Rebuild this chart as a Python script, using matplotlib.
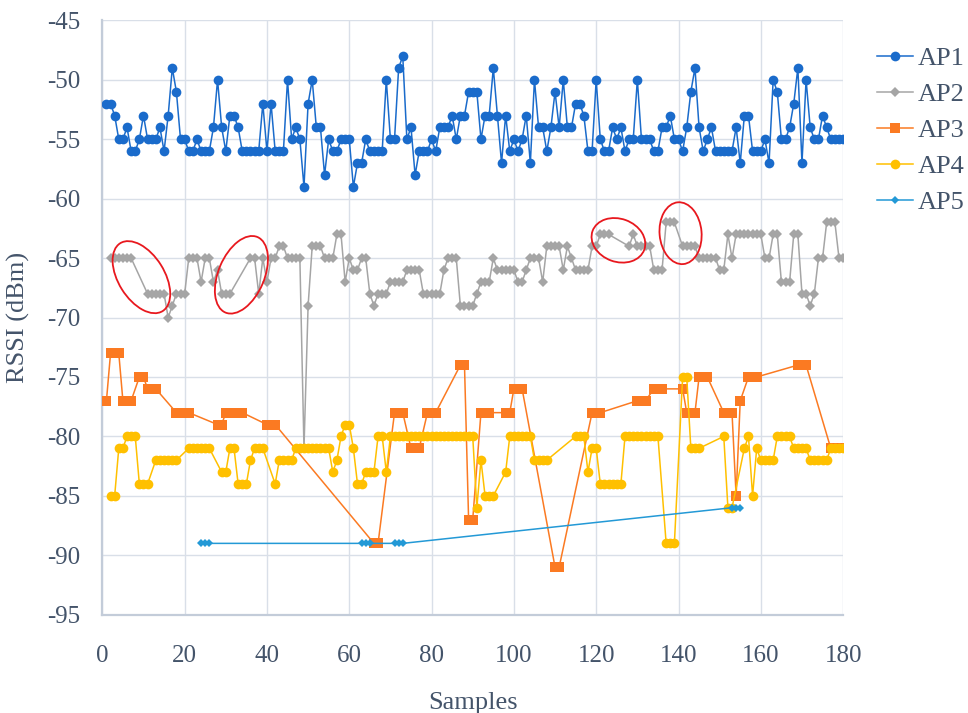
import numpy as np
import matplotlib
matplotlib.use('Agg')
import matplotlib.pyplot as plt
from matplotlib.patches import Ellipse
from matplotlib.transforms import ScaledTranslation

NA = np.nan

# sample index 1..180
samples = np.arange(1, 181)

# RSSI readings (dBm) per access point, NA = no reading
ap1 = [-52, -52, -53, -55, -55, -54, -56, -56, -55, -53,
       -55, -55, -55, -54, -56, -53, -49, -51, -55, -55,
       -56, -56, -55, -56, -56, -56, -54, -50, -54, -56,
       -53, -53, -54, -56, -56, -56, -56, -56, -52, -56,
       -52, -56, -56, -56, -50, -55, -54, -55, -59, -52,
       -50, -54, -54, -58, -55, -56, -56, -55, -55, -55,
       -59, -57, -57, -55, -56, -56, -56, -56, -50, -55,
       -55, -49, -48, -55, -54, -58, -56, -56, -56, -55,
       -56, -54, -54, -54, -53, -55, -53, -53, -51, -51,
       -51, -55, -53, -53, -49, -53, -57, -53, -56, -55,
       -56, -55, -53, -57, -50, -54, -54, -56, -54, -51,
       -54, -50, -54, -54, -52, -52, -53, -56, -56, -50,
       -55, -56, -56, -54, -55, -54, -56, -55, -55, -50,
       -55, -55, -55, -56, -56, -54, -54, -53, -55, -55,
       -56, -54, -51, -49, -54, -56, -55, -54, -56, -56,
       -56, -56, -56, -54, -57, -53, -53, -56, -56, -56,
       -55, -57, -50, -51, -55, -55, -54, -52, -49, -57,
       -50, -54, -55, -55, -53, -54, -55, -55, -55, -55]

ap2 = [NA, -65, -65, -65, -65, -65, -65, NA, NA, NA,
       -68, -68, -68, -68, -68, -70, -69, -68, -68, -68,
       -65, -65, -65, -67, -65, -65, -67, -66, -68, -68,
       -68, NA, NA, NA, NA, -65, -65, -68, -65, -67,
       -65, -65, -64, -64, -65, -65, -65, -65, -81, -69,
       -64, -64, -64, -65, -65, -65, -63, -63, -67, -65,
       -66, -66, -65, -65, -68, -69, -68, -68, -68, -67,
       -67, -67, -67, -66, -66, -66, -66, -68, -68, -68,
       -68, -68, -66, -65, -65, -65, -69, -69, -69, -69,
       -68, -67, -67, -67, -65, -66, -66, -66, -66, -66,
       -67, -67, -66, -65, -65, -65, -67, -64, -64, -64,
       -64, -66, -64, -65, -66, -66, -66, -66, -64, -64,
       -63, -63, -63, NA, NA, NA, NA, -64, -63, -64,
       -64, -64, -64, -66, -66, -66, -62, -62, -62, NA,
       -64, -64, -64, -64, -65, -65, -65, -65, -65, -66,
       -66, -63, -65, -63, -63, -63, -63, -63, -63, -63,
       -65, -65, -63, -63, -67, -67, -67, -63, -63, -68,
       -68, -69, -68, -65, -65, -62, -62, -62, -65, -65]

ap3 = [-77, -73, -73, -73, -77, -77, -77, NA, -75, -75,
       -76, -76, -76, NA, NA, NA, NA, -78, -78, -78,
       -78, NA, NA, NA, NA, NA, NA, -79, -79, -78,
       -78, -78, -78, -78, NA, NA, NA, NA, NA, -79,
       -79, -79, NA, NA, NA, NA, NA, NA, NA, NA,
       NA, NA, NA, NA, NA, NA, NA, NA, NA, NA,
       NA, NA, NA, NA, NA, -89, -89, NA, NA, NA,
       -78, -78, -78, NA, -81, -81, -81, NA, -78, -78,
       -78, NA, NA, NA, NA, NA, -74, -74, -87, -87,
       NA, -78, -78, -78, NA, NA, NA, -78, -78, -76,
       -76, -76, NA, NA, NA, NA, NA, NA, NA, -91,
       -91, NA, NA, NA, NA, NA, NA, NA, -78, -78,
       -78, NA, NA, NA, NA, NA, NA, NA, NA, -77,
       -77, -77, NA, -76, -76, -76, NA, NA, NA, NA,
       -76, -78, -78, -78, -75, -75, -75, NA, NA, NA,
       -78, -78, -78, -85, -77, NA, -75, -75, -75, NA,
       NA, NA, NA, NA, NA, NA, NA, NA, -74, -74,
       -74, NA, NA, NA, NA, NA, -81, -81, -81, -81]

ap4 = [NA, -85, -85, -81, -81, -80, -80, -80, -84, -84,
       -84, NA, -82, -82, -82, -82, -82, -82, NA, NA,
       -81, -81, -81, -81, -81, -81, NA, NA, -83, -83,
       -81, -81, -84, -84, -84, -82, -81, -81, -81, NA,
       NA, -84, -82, -82, -82, -82, -81, -81, -81, -81,
       -81, -81, -81, -81, -81, -83, -82, -80, -79, -79,
       -81, -84, -84, -83, -83, -83, -80, -80, -83, -80,
       -80, -80, -80, -80, -80, -80, -80, -80, -80, -80,
       -80, -80, -80, -80, -80, -80, -80, -80, -80, -80,
       -86, -82, -85, -85, -85, NA, NA, -83, -80, -80,
       -80, -80, -80, -80, -82, -82, -82, -82, NA, NA,
       NA, NA, NA, NA, -80, -80, -80, -83, -81, -81,
       -84, -84, -84, -84, -84, -84, -80, -80, -80, -80,
       -80, -80, -80, -80, -80, NA, -89, -89, -89, NA,
       -75, -75, -81, -81, -81, NA, NA, NA, NA, NA,
       -80, -86, -86, NA, NA, -81, -80, -85, -81, -82,
       -82, -82, -82, -80, -80, -80, -80, -81, -81, -81,
       -81, -82, -82, -82, -82, -82, -81, -81, -81, -81]

ap5 = [NA] * 180
for s in (24, 25, 26, 63, 64, 65, 71, 72, 73):
    ap5[s - 1] = -89
for s in (153, 154, 155):
    ap5[s - 1] = -86

series = [
    ('AP1', ap1, '#1A6BCB', 'o', 7.0),
    ('AP2', ap2, '#A5A5A5', 'D', 4.6),
    ('AP3', ap3, '#FB7A22', 's', 6.6),
    ('AP4', ap4, '#FFC000', 'o', 7.0),
    ('AP5', ap5, '#2399D6', 'D', 4.2),
]

text_color = '#44546A'
plt.rcParams['font.family'] = ['Liberation Serif', 'DejaVu Serif']
plt.rcParams['axes.unicode_minus'] = False

fig = plt.figure(figsize=(9.68, 7.13), dpi=100)
ax = fig.add_axes([0.1057, 0.1379, 0.7653, 0.8334])

for name, vals, color, marker, ms in series:
    y = np.array(vals, dtype=float)
    ok = ~np.isnan(y)
    # Excel-style: connect points across empty cells
    ax.plot(samples[ok], y[ok], color=color, lw=1.1, marker=marker,
            ms=ms, mec=color, mfc=color, mew=0, label=name, zorder=3)

ax.set_xlim(0, 180)
ax.set_ylim(-95, -45)
ax.set_xticks(np.arange(0, 181, 20))
ax.set_yticks(np.arange(-95, -44, 5))
ax.grid(True, color='#D9DFE8', lw=1.0, zorder=0)
ax.set_axisbelow(True)
for side in ('top', 'right'):
    ax.spines[side].set_visible(False)
for side in ('left', 'bottom'):
    ax.spines[side].set_color('#C3CCD9')
    ax.spines[side].set_linewidth(1.6)
ax.tick_params(axis='both', length=0, labelsize=18, colors=text_color)
ax.tick_params(axis='x', pad=22)
ax.tick_params(axis='y', pad=16)

ax.set_xlabel('Samples', fontsize=19, color=text_color, labelpad=18)
ax.set_ylabel('RSSI (dBm)', fontsize=19, color=text_color, labelpad=12)

# red annotation ellipses (sizes in pixels)
ellipses = [(9.5, -66.6, 80, 46, -58), (33.8, -66.4, 82, 46, 67),
            (125.4, -63.5, 55, 43, -20), (140.5, -62.9, 62, 42, 95)]
for cx, cy, w, h, ang in ellipses:
    tr = fig.dpi_scale_trans + ScaledTranslation(cx, cy, ax.transData)
    ax.add_patch(Ellipse((0, 0), w / 100, h / 100, angle=ang, fill=False,
                         ec='#E8181E', lw=1.3, transform=tr, zorder=5))

leg = fig.legend(loc='upper left', bbox_to_anchor=(0.906, 0.935), frameon=False,
                 fontsize=19, labelspacing=0.48, handlelength=1.35, handletextpad=0.2,
                 borderaxespad=0, borderpad=0)
for t in leg.get_texts():
    t.set_color(text_color)

fig.savefig('out.png', dpi=100)
